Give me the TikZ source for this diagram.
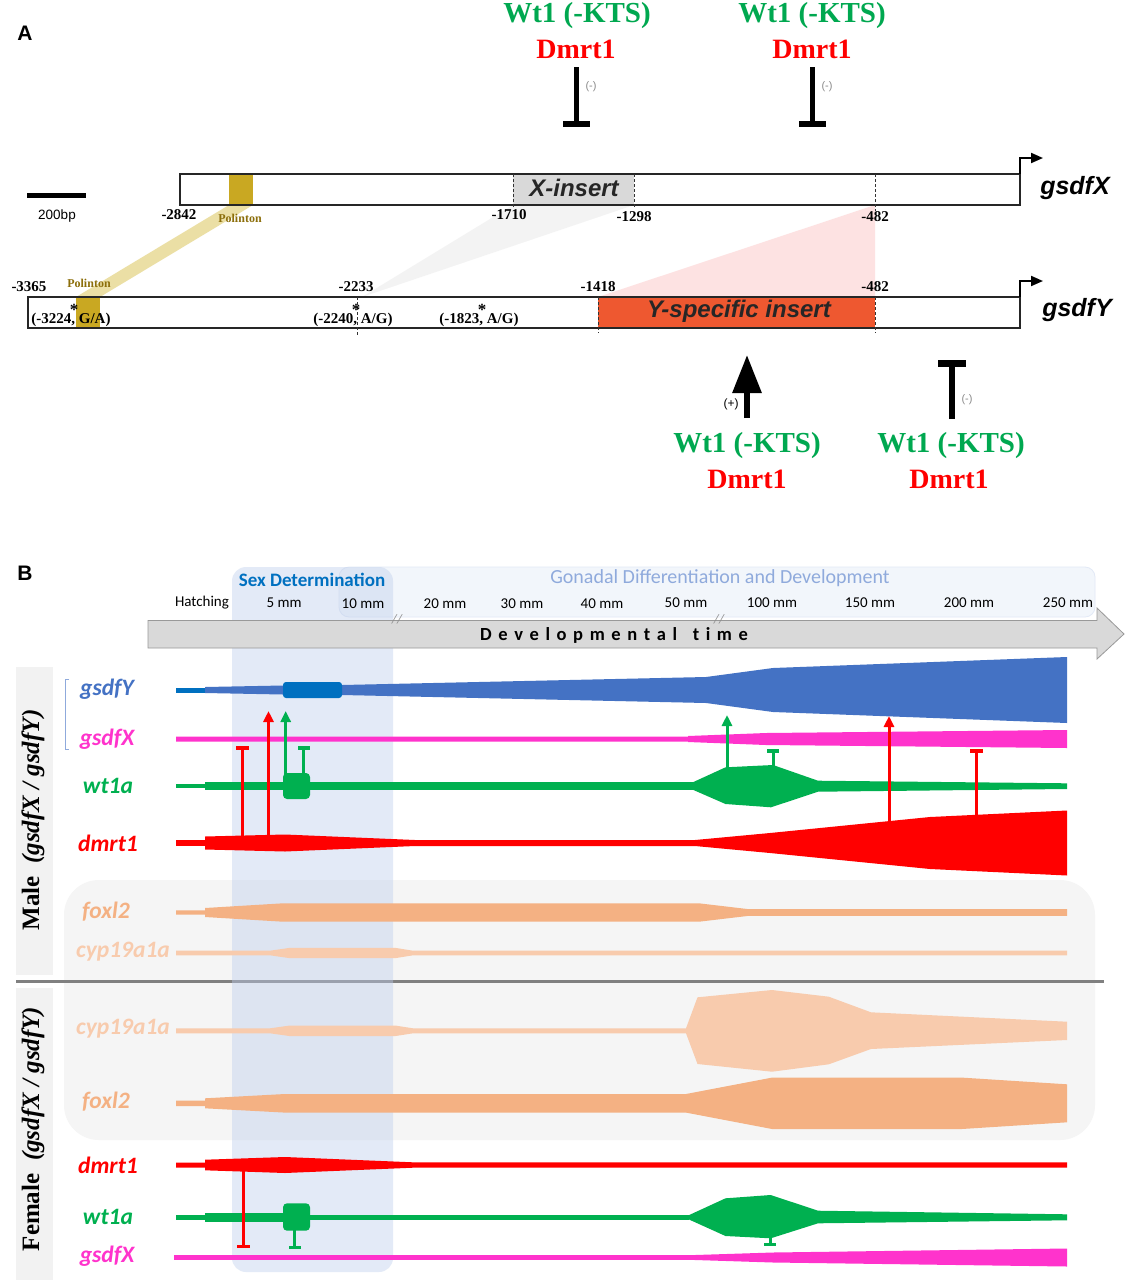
\documentclass[tikz,border=0pt]{standalone}
\usepackage{fontspec}
\setmainfont{Liberation Serif}
\newfontfamily\arialf{Liberation Sans}
\newfontfamily\calf{Carlito}
\usetikzlibrary{arrows.meta}
\newcommand\fsz[1]{\fontsize{#1}{#1}\selectfont}
\newcommand\LS[1]{#1\kern6.6pt}
\newcommand\mutstar{\rlap{\hspace{-1.5pt}\smash{\raisebox{8.5pt}{\fsz{17}*}}}}
\definecolor{agreen}{RGB}{0,168,80}
\definecolor{bgreen}{RGB}{0,176,80}
\definecolor{myred}{RGB}{255,0,0}
\definecolor{yblue}{RGB}{68,114,196}
\definecolor{ydark}{RGB}{0,112,192}
\definecolor{magen}{RGB}{255,51,204}
\definecolor{foxc}{RGB}{244,177,131}
\definecolor{cypc}{RGB}{248,203,173}
\definecolor{gold}{RGB}{201,168,34}
\definecolor{goldtxt}{RGB}{140,110,10}
\definecolor{goldband}{RGB}{232,218,150}
\definecolor{yins}{RGB}{238,88,48}
\definecolor{pinktri}{RGB}{253,226,226}
\definecolor{greytri}{RGB}{243,243,243}
\definecolor{sdblue}{RGB}{190,206,236}
\definecolor{gdtxt}{RGB}{143,170,220}
\definecolor{gdbox}{RGB}{242,246,251}
\definecolor{boxgrey}{RGB}{245,245,245}
\definecolor{lblgrey}{RGB}{242,242,242}
\begin{document}
\begin{tikzpicture}[x=1pt,y=-1pt,
  txt/.style={inner sep=0pt},
  num/.style={inner sep=0pt,font=\bfseries\fsz{15}},
  gene/.style={inner sep=0pt,font=\calf\bfseries\itshape\fsz{23.5}},
  tick/.style={inner sep=0pt,font=\calf\fsz{15}},
  bigT/.style={line width=5pt,-{Rectangle[length=6pt,width=27pt]}},
  tss/.style={line width=2pt,-{Triangle[length=12pt,width=10pt]}},
  actR/.style={draw=myred,line width=3pt,-{Triangle[length=11pt,width=10pt]}},
  inhR/.style={draw=myred,line width=3pt,-{Rectangle[length=3.5pt,width=13pt]}},
  actG/.style={draw=bgreen,line width=3pt,-{Triangle[length=11pt,width=10pt]}},
  inhG/.style={draw=bgreen,line width=3pt,-{Rectangle[length=3.5pt,width=12pt]}},
  dsh/.style={densely dashed,line width=0.8pt,draw=black!80},
  barbox/.style={draw=black!85,line width=1.5pt}]
\useasboundingbox (0,0) rectangle (1125,1280);
\fill[white] (0,0) rectangle (1125,1280);

%%%%%%%%%%%%%%%% PANEL A
\node[txt,font=\arialf\bfseries\fsz{21}] (labA) at (25,33) {A};

% connecting bands
\fill[goldband,opacity=0.85] (229,205) -- (253,205) -- (100,297) -- (76,297) -- cycle;
\fill[greytri] (513,205) -- (634,205) -- (362,297) -- cycle;
\fill[pinktri] (875,205) -- (875,297) -- (598,297) -- cycle;

% gsdfX bar
\filldraw[barbox,fill=white] (180,174) rectangle (1020,205);
\fill[gold] (229,175) rectangle (253,204);
\fill[black!15] (513,175) rectangle (634,204);
\draw[dsh] (513,174) -- (513,207);
\draw[dsh] (634,174) -- (634,207);
\draw[dsh] (875,174) -- (875,211);
\node[txt,font=\arialf\bfseries\itshape\fsz{24},text=black!85] (xins) at (574,188) {X-insert};
\coordinate (xtss0) at (1020,174);
\coordinate (xtss1) at (1020,158);
\coordinate (xtss2) at (1043,158);
\draw[tss] (xtss0) -- (xtss1) -- (xtss2);
\node[txt,font=\arialf\bfseries\itshape\fsz{25}] (gX) at (1075,188) {gsdfX};

% scale bar
\coordinate (sb0) at (27,195);
\coordinate (sb1) at (86,195);
\draw[line width=5pt] (sb0) -- (sb1);
\node[txt,font=\arialf\fsz{13.5}] (sbl) at (57,216) {200bp};

\node[num] (n2842) at (179,215) {-2842};
\node[txt,font=\bfseries\fsz{12},text=goldtxt] (polX) at (240,218) {Polinton};
\node[num] (n1710) at (509,215) {-1710};
\node[num] (n1298) at (634,217) {-1298};
\node[num] (n482a) at (875,217) {-482};

% gsdfY bar
\filldraw[barbox,fill=white] (28,297) rectangle (1020,328);
\fill[gold] (76,298) rectangle (100,327);
\fill[yins] (598,298) rectangle (875,327);
\draw[dsh] (357,297) -- (357,335);
\draw[dsh] (598,297) -- (598,333);
\draw[dsh] (875,297) -- (875,333);
\node[txt,font=\arialf\bfseries\itshape\fsz{24},text=black!85] (yinsl) at (739,311) {Y-specific insert};
\coordinate (ytss0) at (1020,297);
\coordinate (ytss1) at (1020,281);
\coordinate (ytss2) at (1043,281);
\draw[tss] (ytss0) -- (ytss1) -- (ytss2);
\node[txt,font=\arialf\bfseries\itshape\fsz{25}] (gY) at (1077,310) {gsdfY};

\node[num] (n3365) at (29,287) {-3365};
\node[txt,font=\bfseries\fsz{12},text=goldtxt] (polY) at (89,283) {Polinton};
\node[num] (n2233) at (356,287) {-2233};
\node[num] (n1418) at (598,287) {-1418};
\node[num] (n482b) at (875,287) {-482};

\node[num] (m1) at (71,320) {(-3224\mutstar, G/A)};
\node[num] (m2) at (353,320) {(-2240\mutstar, A/G)};
\node[num] (m3) at (479,320) {(-1823\mutstar, A/G)};

% top regulators
\node[txt,anchor=base,font=\bfseries\fsz{29},text=agreen] (wt1a) at (577,22) {Wt1 (-KTS)};
\node[txt,anchor=base,font=\bfseries\fsz{28},text=myred] (dm1a) at (576,58) {Dmrt1};
\node[txt,anchor=base,font=\bfseries\fsz{29},text=agreen] (wt1b) at (812,22) {Wt1 (-KTS)};
\node[txt,anchor=base,font=\bfseries\fsz{28},text=myred] (dm1b) at (812,58) {Dmrt1};
\coordinate (ta0) at (576,67);
\coordinate (ta1) at (576,127);
\coordinate (tb0) at (812,67);
\coordinate (tb1) at (812,127);
\draw[bigT] (ta0) -- (ta1);
\draw[bigT] (tb0) -- (tb1);
\node[txt,font=\arialf\fsz{11},text=black!45] (ma) at (591,87) {(-)};
\node[txt,font=\arialf\fsz{11},text=black!45] (mb) at (827,87) {(-)};

% bottom regulators
\node[txt,anchor=base,font=\bfseries\fsz{29},text=agreen] (wt1c) at (747,452) {Wt1 (-KTS)};
\node[txt,anchor=base,font=\bfseries\fsz{28},text=myred] (dm1c) at (747,488) {Dmrt1};
\node[txt,anchor=base,font=\bfseries\fsz{29},text=agreen] (wt1d) at (951,452) {Wt1 (-KTS)};
\node[txt,anchor=base,font=\bfseries\fsz{28},text=myred] (dm1d) at (949,488) {Dmrt1};
\coordinate (tc0) at (747,418);
\coordinate (tc1) at (747,355);
\draw[line width=6pt,-{Triangle[length=38pt,width=28pt]}] (tc0) -- (tc1);
\coordinate (td0) at (952,419);
\coordinate (td1) at (952,360);
\draw[line width=6pt,-{Rectangle[length=7pt,width=28pt]}] (td0) -- (td1);
\node[txt,font=\arialf\fsz{12}] (pc) at (731,404) {(+)};
\node[txt,font=\arialf\fsz{11},text=black!45] (pd) at (967,400) {(-)};

%%%%%%%%%%%%%%%% PANEL B
\node[txt,font=\arialf\bfseries\fsz{21}] (labB) at (25,573) {B};

% side label boxes
\fill[lblgrey] (16,667) rectangle (53,975);
\fill[lblgrey] (16,988) rectangle (53,1280);
% grey boxes around foxl2/cyp19a1a
\begin{scope}
\clip (0,870) rectangle (1125,979);
\fill[boxgrey,rounded corners=35pt] (64,880) rectangle (1095,1060);
\end{scope}
\begin{scope}
\clip (0,983) rectangle (1125,1150);
\fill[boxgrey,rounded corners=35pt] (64,900) rectangle (1095,1140);
\end{scope}
\draw[black!50,line width=3pt] (16,981.5) -- (1104,981.5);

% stage boxes
\filldraw[fill=gdbox,draw=sdblue!45,line width=0.8pt,rounded corners=10pt] (339,567) rectangle (1095,617);
\fill[sdblue,opacity=0.42,rounded corners=14pt] (232,567) rectangle (393,1272);
\node[txt,font=\calf\bfseries\fsz{19},text=ydark] (sdl) at (312,580) {Sex Determination};
\node[txt,font=\calf\fsz{20},text=gdtxt] (gdl) at (720,578) {Gonadal Differentiation and Development};

% time arrow
\filldraw[fill=black!15,draw=black!40,line width=0.8pt] (148,620.5) -- (1097,620.5) -- (1097,608) -- (1124,634) -- (1097,659) -- (1097,648) -- (148,648) -- cycle;
\node[txt,font=\calf\bfseries\fsz{18.5}] (devt) at (614,635) {\LS D\LS e\LS v\LS e\LS l\LS o\LS p\LS m\LS e\LS n\LS t\LS a\LS l\hspace{9pt}\LS t\LS i\LS m e};
\node[txt,font=\calf\itshape\fsz{13},text=black!45] (br1) at (397,619.5) {//};
\node[txt,font=\calf\itshape\fsz{13},text=black!45] (br2) at (719,619.5) {//};

\node[tick] (t0) at (202,603) {Hatching};
\node[tick] (t1) at (284,603) {5 mm};
\node[tick] (t2) at (363,604) {10 mm};
\node[tick] (t3) at (445,604) {20 mm};
\node[tick] (t4) at (522,604) {30 mm};
\node[tick] (t5) at (602,604) {40 mm};
\node[tick] (t6) at (686,603) {50 mm};
\node[tick] (t7) at (772,603) {100 mm};
\node[tick] (t8) at (870,603) {150 mm};
\node[tick] (t9) at (969,603) {200 mm};
\node[tick] (t10) at (1068,603) {250 mm};

% side labels
\node[txt,rotate=90,font=\bfseries\fsz{25}] (malel) at (33,820) {Male\enspace{\itshape(gsdfX / gsdfY)}};
\node[txt,rotate=90,font=\bfseries\fsz{25}] (femal) at (33,1129) {Female\enspace{\itshape(gsdfX / gsdfY)}};
\coordinate (br0) at (69,679);
\coordinate (br1c) at (65,679);
\coordinate (br2c) at (65,749);
\coordinate (br3) at (69,749);
\draw[gdtxt,line width=0.8pt] (br0) -- (br1c) -- (br2c) -- (br3);

% gene labels
\node[gene,text=yblue] (lgY) at (107,689) {gsdfY};
\node[gene,text=magen] (lgX) at (107,739) {gsdfX};
\node[gene,text=bgreen] (lwt) at (108,786) {wt1a};
\node[gene,text=myred] (ldm) at (108,843) {dmrt1};
\node[gene,text=foxc] (lfx) at (106,912) {foxl2};
\node[gene,text=cypc] (lcy) at (123,952) {cyp19a1a};
\node[gene,text=cypc] (fcy) at (123,1029) {cyp19a1a};
\node[gene,text=foxc] (ffx) at (106,1102) {foxl2};
\node[gene,text=myred] (fdm) at (108,1165) {dmrt1};
\node[gene,text=bgreen] (fwt) at (108,1217) {wt1a};
\node[gene,text=magen] (fgX) at (107,1256) {gsdfX};

%%%% male profiles
% gsdfY
\fill[ydark] (176,687.5) rectangle (205,692.5);
\fill[yblue] (205,687) -- (283,685.5) -- (342,685) -- (706,677) -- (773,668) -- (1067,657) -- (1067,723) -- (773,712) -- (706,703) -- (342,695) -- (283,694.5) -- (205,693) -- cycle;
\fill[ydark,rounded corners=3pt] (283,682) rectangle (342,698);
% gsdfX
\fill[magen] (176,736.5) -- (688,736.5) -- (688,736) -- (766,733) -- (1067,730) -- (1067,748) -- (766,745) -- (688,742) -- (688,741.5) -- (176,741.5) -- cycle;
% wt1a
\fill[bgreen] (176,783.8) rectangle (205,788.2);
\fill[bgreen] (205,782.2) rectangle (693,789.8);
\fill[bgreen,rounded corners=4pt] (283,773) rectangle (310,799);
\fill[bgreen] (693,782.2) -- (725.5,767.3) -- (773,765) -- (818,780.7) -- (1067,783.3) -- (1067,789) -- (818,791.7) -- (771,807.3) -- (725.5,804) -- (693,789.8) -- cycle;
% dmrt1
\fill[myred] (176,840.2) -- (205,840.2) -- (205,836.5) -- (285,834.5) -- (415,840) -- (695,840) -- (770,833) -- (930,817) -- (1067,810.5) -- (1067,875.5) -- (930,869) -- (770,853) -- (695,846) -- (415,846) -- (285,851.5) -- (205,849.5) -- (205,845.8) -- (176,845.8) -- cycle;
% foxl2
\fill[foxc] (176,910.3) -- (205,910.3) -- (205,908) -- (283,903.3) -- (699,903.3) -- (749,909.2) -- (1067,909.2) -- (1067,915.8) -- (749,915.8) -- (699,921.7) -- (283,921.7) -- (205,917) -- (205,914.7) -- (176,914.7) -- cycle;
% cyp19a1a
\fill[cypc] (176,950.7) -- (270,950.7) -- (290,947.8) -- (395,947.8) -- (413,950.7) -- (1067,950.7) -- (1067,955.3) -- (413,955.3) -- (395,958.2) -- (290,958.2) -- (270,955.3) -- (176,955.3) -- cycle;

%%%% female profiles
\fill[cypc] (176,1028.3) -- (270,1028.3) -- (290,1025.5) -- (395,1025.5) -- (413,1028.3) -- (686,1028.3) -- (697.5,997.3) -- (772,990) -- (828.8,996.7) -- (871,1012.3) -- (1067,1021.7) -- (1067,1040) -- (871,1049) -- (828.8,1064.3) -- (772,1071.7) -- (697.5,1064) -- (686,1033.3) -- (413,1033.3) -- (395,1036.1) -- (290,1036.1) -- (270,1033.3) -- (176,1033.3) -- cycle;
\fill[foxc] (176,1100.6) -- (205,1100.6) -- (205,1098.3) -- (285,1094) -- (686,1094) -- (772,1077.6) -- (962,1077.6) -- (1067,1084.3) -- (1067,1122.3) -- (962,1129) -- (772,1129) -- (686,1112.6) -- (285,1112.6) -- (205,1108.3) -- (205,1106) -- (176,1106) -- cycle;
\fill[myred] (176,1162.5) -- (205,1162.5) -- (205,1159.7) -- (285,1157) -- (413,1162.3) -- (1067,1162.3) -- (1067,1167.7) -- (413,1167.7) -- (285,1173) -- (205,1170.3) -- (205,1167.5) -- (176,1167.5) -- cycle;
\fill[bgreen] (176,1215.1) rectangle (205,1219.5);
\fill[bgreen] (205,1213.1) rectangle (283,1221.5);
\fill[bgreen] (310,1215.1) rectangle (689,1219.5);
\fill[bgreen,rounded corners=4pt] (283,1203.3) rectangle (310,1230.7);
\fill[bgreen] (689,1215.1) -- (725.5,1198.3) -- (770.7,1195) -- (818,1210.7) -- (1067,1214.3) -- (1067,1220.3) -- (818,1223.3) -- (770.7,1238.3) -- (725.5,1236) -- (689,1219.5) -- cycle;
\fill[magen] (174,1255.2) -- (689,1255.2) -- (773,1252.5) -- (1067,1248.5) -- (1067,1266.5) -- (773,1262.5) -- (689,1259.8) -- (174,1259.8) -- cycle;

%%%% regulation connectors (male)
\coordinate (mdA) at (242,837);   \coordinate (mgXa) at (242,746);
\coordinate (mdB) at (268.5,837); \coordinate (mgYa) at (268.5,711);
\coordinate (mwA) at (285.7,774); \coordinate (mgYb) at (285.7,711);
\coordinate (mwB) at (303.5,774); \coordinate (mgXb) at (303.5,746);
\coordinate (mwC) at (727,768);   \coordinate (mgYc) at (727,715);
\coordinate (mwD) at (773,766);   \coordinate (mgXc) at (773,749);
\coordinate (mdC) at (889,822);   \coordinate (mgYd) at (889,716);
\coordinate (mdD) at (976,816);   \coordinate (mgXd) at (976,749);
\draw[inhR] (mdA) -- (mgXa);
\draw[actR] (mdB) -- (mgYa);
\draw[actG] (mwA) -- (mgYb);
\draw[inhG] (mwB) -- (mgXb);
\draw[actG] (mwC) -- (mgYc);
\draw[inhG] (mwD) -- (mgXc);
\draw[actR] (mdC) -- (mgYd);
\draw[inhR] (mdD) -- (mgXd);
%%%% female
\coordinate (fdA) at (243,1166);   \coordinate (fgXa) at (243,1248);
\coordinate (fwA) at (294.5,1229); \coordinate (fgXb) at (294.5,1249);
\coordinate (fwB) at (770,1237);   \coordinate (fgXc) at (770,1246);
\draw[inhR] (fdA) -- (fgXa);
\draw[inhG] (fwA) -- (fgXb);
\draw[inhG] (fwB) -- (fgXc);
\end{tikzpicture}
\end{document}
